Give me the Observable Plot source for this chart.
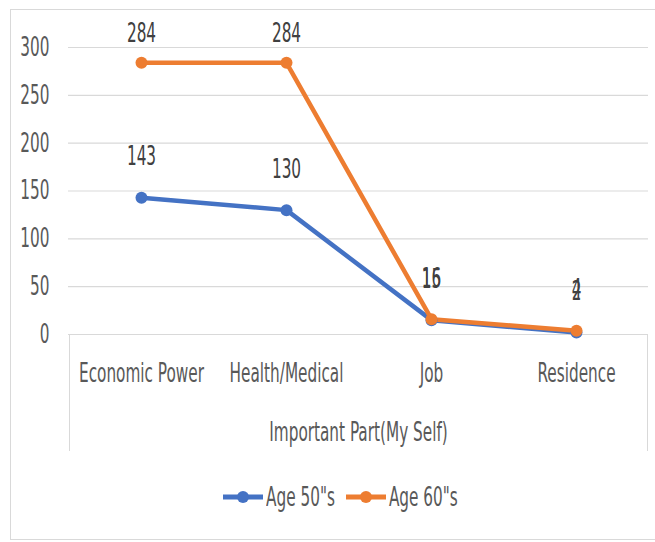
<!DOCTYPE html>
<html><head><meta charset="utf-8">
<script src="https://cdn.jsdelivr.net/npm/d3@7"></script>
<script src="https://cdn.jsdelivr.net/npm/@observablehq/plot@0.6"></script>
<style>
body{margin:0;background:#fff;}
#wrap{position:relative;width:655px;height:542px;overflow:hidden;font-family:"Liberation Sans Narrow","DejaVu Sans Condensed",sans-serif;color:#595959;}
#frame{position:absolute;left:10px;top:9px;width:700px;height:529px;border-left:1px solid #d9d9d9;border-top:1px solid #d9d9d9;border-bottom:1px solid #d9d9d9;}
#box{position:absolute;left:69px;top:334px;width:577px;height:117px;border-left:1px solid #d9d9d9;border-right:1px solid #d9d9d9;}
#chart{position:absolute;left:0;top:0;}
#legend{position:absolute;top:484px;left:222px;height:26px;display:flex;align-items:center;font-size:17px;}
#legend .item{display:flex;align-items:center;margin-right:10px;}
#legend .lbl{display:inline-block;transform:scaleY(1.55);margin-left:2px;}
</style></head>
<body>
<div id="wrap">
  <div id="frame"></div>
  <div id="box"></div>
  <div id="chart"></div>
  <div id="legend"></div>
</div>
<script>
const categories = ["Economic Power", "Health/Medical", "Job", "Residence"];
const seriesNames = ['Age 50"s', 'Age 60"s'];
const age50 = [143, 130, 15, 2];
const age60 = [284, 284, 16, 4];
const yTicks = [0, 50, 100, 150, 200, 250, 300];
const xTitle = "Important Part(My Self)";
const colors = ["#4472C4", "#ED7D31"];

const data = [];
categories.forEach((c, i) => data.push({cat: c, series: seriesNames[0], value: age50[i]}));
categories.forEach((c, i) => data.push({cat: c, series: seriesNames[1], value: age60[i]}));

const FS = 17;
const SY = 1.55;

const plot = Plot.plot({
  width: 655,
  height: 470,
  marginLeft: 68,
  marginRight: 7,
  marginTop: 47,
  marginBottom: 136,
  style: {fontFamily: '"Liberation Sans Narrow","DejaVu Sans Condensed",sans-serif', fontSize: FS + "px", color: "#595959", background: "transparent"},
  x: {type: "point", domain: categories, padding: 0.5},
  y: {domain: [0, 300]},
  color: {domain: seriesNames, range: colors},
  marks: [
    Plot.gridY(yTicks, {stroke: "#d9d9d9", strokeOpacity: 1, strokeWidth: 1.2}),
    Plot.axisY(yTicks, {tickSize: 0, tickPadding: 19, label: null, fill: "#595959", fontSize: FS}),
    Plot.axisX({tickSize: 0, tickPadding: 29, label: null, fill: "#595959", fontSize: FS}),
    Plot.text([xTitle], {frameAnchor: "bottom", dy: 106, fill: "#595959", fontSize: FS}),
    Plot.line(data, {x: "cat", y: "value", z: "series", stroke: "series", strokeWidth: 4.5, strokeLinejoin: "round", strokeLinecap: "round"}),
    Plot.dot(data, {x: "cat", y: "value", fill: "series", r: 6, stroke: "none"}),
    Plot.text(data, {x: "cat", y: "value", text: d => String(d.value), dy: -41, fill: "#404040", fontSize: FS,
      render(index, scales, values, dims, ctx, next) {
        const y = Float64Array.from(values.y, v => Math.max(v, 74));
        return next(index, scales, {...values, y}, dims, ctx);
      }})
  ]
});

// vertical stretch of the text (the reference glyphs are tall and narrow)
d3.select(plot).selectAll("text").each(function() {
  const t = this.getAttribute("transform");
  if (t) {
    this.setAttribute("transform", t + ` scale(1,${SY})`);
  } else {
    const x = +this.getAttribute("x") || 0, y = +this.getAttribute("y") || 0;
    this.setAttribute("transform", `translate(${x},${y}) scale(1,${SY}) translate(${-x},${-y})`);
  }
});

document.getElementById("chart").appendChild(plot);

const legend = d3.select("#legend");
seriesNames.forEach((s, i) => {
  const item = legend.append("div").attr("class", "item");
  const sw = item.append("svg").attr("width", 42).attr("height", 14);
  sw.append("line").attr("x1", 1).attr("x2", 41).attr("y1", 7).attr("y2", 7).attr("stroke", colors[i]).attr("stroke-width", 5);
  sw.append("circle").attr("cx", 21).attr("cy", 7).attr("r", 6).attr("fill", colors[i]);
  item.append("span").attr("class", "lbl").text(s);
});
</script>
</body></html>
